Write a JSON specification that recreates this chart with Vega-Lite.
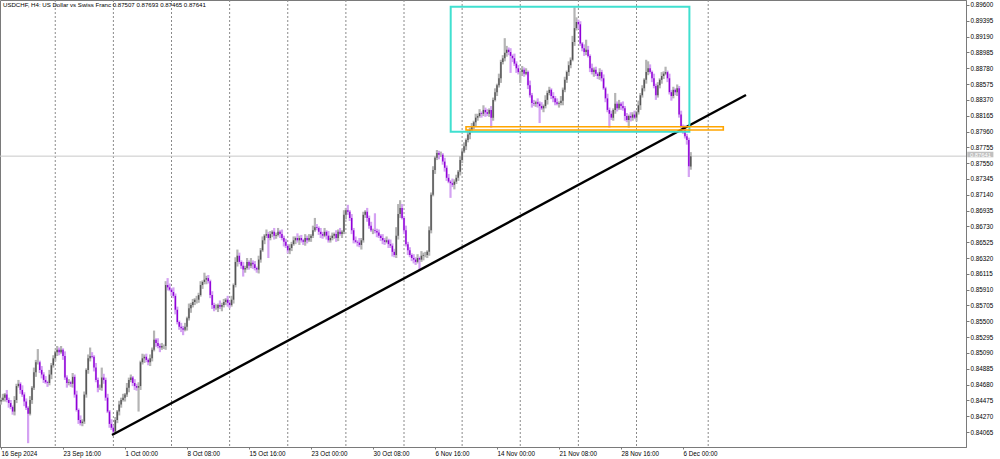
{
"$schema": "https://vega.github.io/schema/vega-lite/v6.json",
"width": 966, "height": 447,
"autosize": {"type": "none"},
"padding": {"left": 0, "top": 0, "right": 34, "bottom": 12},
"background": "white",
"config": {"view": {"stroke": "#7a7a7a", "strokeWidth": 1}, "font": "Liberation Sans"},
"title": {"text": "USDCHF, H4:  US Dollar vs Swiss Franc  0.87507 0.87693 0.87465 0.87641", "anchor": "start", "frame": "group", "offset": -9, "dx": 3, "fontSize": 6.1, "fontWeight": "normal", "font": "Liberation Sans", "color": "#000000"},
"datasets": {
"seps": [{"i":30},{"i":60},{"i":90},{"i":120},{"i":150},{"i":180},{"i":210},{"i":240},{"i":270},{"i":300},{"i":330},{"i":367}],
"trend": [{"x1":59.3,"p1":0.84026,"x2":386.5,"p2":0.88433}],
"box": [{"x1":234.1,"x2":357.3,"p1":0.89578,"p2":0.87958}],
"zone": [{"x1":242,"x2":374.8,"p1":0.88022,"p2":0.8798}],
"tag": [{"x1":500.7,"x2":514.2,"xm":507.5,"p1":0.87698,"p2":0.87626,"pm":0.87662,"label":"0.87641"}],
"bars": [
{"i":2,"o":0.8446,"h":0.8451,"l":0.8442,"c":0.8448},
{"i":3,"o":0.8448,"h":0.8456,"l":0.8446,"c":0.8451},
{"i":4,"o":0.8451,"h":0.8457,"l":0.8446,"c":0.8455},
{"i":5,"o":0.8455,"h":0.8461,"l":0.8445,"c":0.8448},
{"i":6,"o":0.8448,"h":0.8451,"l":0.8438,"c":0.8444},
{"i":7,"o":0.8444,"h":0.8448,"l":0.8436,"c":0.8439},
{"i":8,"o":0.8439,"h":0.8441,"l":0.8429,"c":0.8433},
{"i":9,"o":0.8433,"h":0.8453,"l":0.8428,"c":0.8448},
{"i":10,"o":0.8448,"h":0.8469,"l":0.8444,"c":0.8466},
{"i":11,"o":0.8466,"h":0.8474,"l":0.8464,"c":0.8469},
{"i":12,"o":0.8469,"h":0.8471,"l":0.8456,"c":0.8461},
{"i":13,"o":0.8461,"h":0.8467,"l":0.8452,"c":0.8455},
{"i":14,"o":0.8455,"h":0.8458,"l":0.844,"c":0.8446},
{"i":15,"o":0.8446,"h":0.845,"l":0.8435,"c":0.8438},
{"i":16,"o":0.8438,"h":0.844,"l":0.8392,"c":0.843},
{"i":17,"o":0.843,"h":0.8453,"l":0.8428,"c":0.8448},
{"i":18,"o":0.8448,"h":0.8466,"l":0.8443,"c":0.8464},
{"i":19,"o":0.8464,"h":0.849,"l":0.8461,"c":0.8484},
{"i":20,"o":0.8484,"h":0.85,"l":0.8478,"c":0.8497},
{"i":21,"o":0.8497,"h":0.8514,"l":0.8494,"c":0.8497},
{"i":22,"o":0.8497,"h":0.8499,"l":0.8483,"c":0.8487},
{"i":23,"o":0.8487,"h":0.8492,"l":0.8476,"c":0.8481},
{"i":24,"o":0.8481,"h":0.8484,"l":0.847,"c":0.8474},
{"i":25,"o":0.8474,"h":0.8479,"l":0.8469,"c":0.8471},
{"i":26,"o":0.8471,"h":0.8473,"l":0.8465,"c":0.847},
{"i":27,"o":0.847,"h":0.8487,"l":0.8467,"c":0.8481},
{"i":28,"o":0.8481,"h":0.8496,"l":0.8475,"c":0.8493},
{"i":29,"o":0.8493,"h":0.8506,"l":0.849,"c":0.8502},
{"i":30,"o":0.8502,"h":0.8512,"l":0.8498,"c":0.851},
{"i":31,"o":0.851,"h":0.8518,"l":0.8505,"c":0.8513},
{"i":32,"o":0.8513,"h":0.8516,"l":0.8506,"c":0.851},
{"i":33,"o":0.851,"h":0.8518,"l":0.8508,"c":0.8513},
{"i":34,"o":0.8513,"h":0.8515,"l":0.85,"c":0.8505},
{"i":35,"o":0.8505,"h":0.8511,"l":0.8474,"c":0.8477},
{"i":36,"o":0.8477,"h":0.848,"l":0.8464,"c":0.847},
{"i":37,"o":0.847,"h":0.8475,"l":0.8467,"c":0.8471},
{"i":38,"o":0.8471,"h":0.8473,"l":0.8465,"c":0.8469},
{"i":39,"o":0.8469,"h":0.8483,"l":0.8464,"c":0.8478},
{"i":40,"o":0.8478,"h":0.8481,"l":0.8451,"c":0.8455},
{"i":41,"o":0.8455,"h":0.846,"l":0.8433,"c":0.8435},
{"i":42,"o":0.8435,"h":0.8437,"l":0.8417,"c":0.8422},
{"i":43,"o":0.8422,"h":0.8428,"l":0.8415,"c":0.8418},
{"i":44,"o":0.8418,"h":0.8423,"l":0.8414,"c":0.842},
{"i":45,"o":0.842,"h":0.8459,"l":0.8417,"c":0.8455},
{"i":46,"o":0.8455,"h":0.8489,"l":0.8451,"c":0.8487},
{"i":47,"o":0.8487,"h":0.8507,"l":0.8482,"c":0.8502},
{"i":48,"o":0.8502,"h":0.8516,"l":0.8498,"c":0.8505},
{"i":49,"o":0.8505,"h":0.851,"l":0.8502,"c":0.8504},
{"i":50,"o":0.8504,"h":0.8506,"l":0.8485,"c":0.849},
{"i":51,"o":0.849,"h":0.8496,"l":0.8471,"c":0.8474},
{"i":52,"o":0.8474,"h":0.8477,"l":0.8458,"c":0.8464},
{"i":53,"o":0.8464,"h":0.8468,"l":0.8461,"c":0.8464},
{"i":54,"o":0.8464,"h":0.849,"l":0.846,"c":0.8477},
{"i":55,"o":0.8477,"h":0.8482,"l":0.8469,"c":0.8474},
{"i":56,"o":0.8474,"h":0.8477,"l":0.8447,"c":0.8451},
{"i":57,"o":0.8451,"h":0.8456,"l":0.8431,"c":0.8433},
{"i":58,"o":0.8433,"h":0.8435,"l":0.8412,"c":0.8417},
{"i":59,"o":0.8417,"h":0.8423,"l":0.8409,"c":0.8412},
{"i":60,"o":0.8412,"h":0.8415,"l":0.8403,"c":0.8407},
{"i":61,"o":0.8407,"h":0.8426,"l":0.8404,"c":0.8422},
{"i":62,"o":0.8422,"h":0.8435,"l":0.8418,"c":0.8433},
{"i":63,"o":0.8433,"h":0.8447,"l":0.8428,"c":0.8442},
{"i":64,"o":0.8442,"h":0.8451,"l":0.8438,"c":0.8448},
{"i":65,"o":0.8448,"h":0.8456,"l":0.8446,"c":0.8451},
{"i":66,"o":0.8451,"h":0.8457,"l":0.8446,"c":0.8455},
{"i":67,"o":0.8455,"h":0.847,"l":0.8452,"c":0.8464},
{"i":68,"o":0.8464,"h":0.8477,"l":0.8458,"c":0.8474},
{"i":69,"o":0.8474,"h":0.8481,"l":0.8471,"c":0.8477},
{"i":70,"o":0.8477,"h":0.8479,"l":0.8466,"c":0.847},
{"i":71,"o":0.847,"h":0.8475,"l":0.8461,"c":0.8466},
{"i":72,"o":0.8466,"h":0.8469,"l":0.846,"c":0.8464},
{"i":73,"o":0.8464,"h":0.8471,"l":0.8433,"c":0.8466},
{"i":74,"o":0.8466,"h":0.8499,"l":0.8461,"c":0.8497},
{"i":75,"o":0.8497,"h":0.8508,"l":0.8494,"c":0.8502},
{"i":76,"o":0.8502,"h":0.8507,"l":0.8496,"c":0.8504},
{"i":77,"o":0.8504,"h":0.8508,"l":0.8497,"c":0.85},
{"i":78,"o":0.85,"h":0.8502,"l":0.8493,"c":0.8497},
{"i":79,"o":0.8497,"h":0.8507,"l":0.8492,"c":0.8502},
{"i":80,"o":0.8502,"h":0.8516,"l":0.8498,"c":0.8513},
{"i":81,"o":0.8513,"h":0.8538,"l":0.8511,"c":0.8526},
{"i":82,"o":0.8526,"h":0.8528,"l":0.8517,"c":0.8522},
{"i":83,"o":0.8522,"h":0.8528,"l":0.8515,"c":0.8518},
{"i":84,"o":0.8518,"h":0.8521,"l":0.851,"c":0.8516},
{"i":85,"o":0.8516,"h":0.8522,"l":0.8513,"c":0.8518},
{"i":86,"o":0.8518,"h":0.852,"l":0.8514,"c":0.8518},
{"i":87,"o":0.8518,"h":0.8602,"l":0.8513,"c":0.8597},
{"i":88,"o":0.8597,"h":0.8606,"l":0.859,"c":0.8594},
{"i":89,"o":0.8594,"h":0.8599,"l":0.8589,"c":0.8591},
{"i":90,"o":0.8591,"h":0.8593,"l":0.8583,"c":0.8588},
{"i":91,"o":0.8588,"h":0.8594,"l":0.858,"c":0.8583},
{"i":92,"o":0.8583,"h":0.8586,"l":0.8559,"c":0.8565},
{"i":93,"o":0.8565,"h":0.8569,"l":0.8546,"c":0.8549},
{"i":94,"o":0.8549,"h":0.8551,"l":0.8539,"c":0.8543},
{"i":95,"o":0.8543,"h":0.8548,"l":0.8536,"c":0.8541},
{"i":96,"o":0.8541,"h":0.8544,"l":0.8532,"c":0.8539},
{"i":97,"o":0.8539,"h":0.8548,"l":0.8537,"c":0.8543},
{"i":98,"o":0.8543,"h":0.8556,"l":0.8538,"c":0.8554},
{"i":99,"o":0.8554,"h":0.8573,"l":0.8551,"c":0.8567},
{"i":100,"o":0.8567,"h":0.8574,"l":0.8561,"c":0.8571},
{"i":101,"o":0.8571,"h":0.8579,"l":0.8568,"c":0.8575},
{"i":102,"o":0.8575,"h":0.858,"l":0.8571,"c":0.8578},
{"i":103,"o":0.8578,"h":0.8583,"l":0.8573,"c":0.8578},
{"i":104,"o":0.8578,"h":0.8587,"l":0.8574,"c":0.8584},
{"i":105,"o":0.8584,"h":0.8602,"l":0.8582,"c":0.8597},
{"i":106,"o":0.8597,"h":0.8603,"l":0.8592,"c":0.8601},
{"i":107,"o":0.8601,"h":0.8613,"l":0.8598,"c":0.8604},
{"i":108,"o":0.8604,"h":0.8609,"l":0.8598,"c":0.8606},
{"i":109,"o":0.8606,"h":0.861,"l":0.8599,"c":0.8602},
{"i":110,"o":0.8602,"h":0.8604,"l":0.858,"c":0.8584},
{"i":111,"o":0.8584,"h":0.8589,"l":0.8566,"c":0.8571},
{"i":112,"o":0.8571,"h":0.8574,"l":0.8563,"c":0.8567},
{"i":113,"o":0.8567,"h":0.8572,"l":0.8565,"c":0.8567},
{"i":114,"o":0.8567,"h":0.8573,"l":0.8562,"c":0.8571},
{"i":115,"o":0.8571,"h":0.8577,"l":0.8566,"c":0.8569},
{"i":116,"o":0.8569,"h":0.8574,"l":0.8563,"c":0.8571},
{"i":117,"o":0.8571,"h":0.8579,"l":0.8568,"c":0.8575},
{"i":118,"o":0.8575,"h":0.858,"l":0.8571,"c":0.8578},
{"i":119,"o":0.8578,"h":0.8583,"l":0.8569,"c":0.8574},
{"i":120,"o":0.8574,"h":0.8577,"l":0.8567,"c":0.8571},
{"i":121,"o":0.8571,"h":0.8583,"l":0.8569,"c":0.8578},
{"i":122,"o":0.8578,"h":0.8599,"l":0.8573,"c":0.8597},
{"i":123,"o":0.8597,"h":0.8633,"l":0.8594,"c":0.8627},
{"i":124,"o":0.8627,"h":0.8643,"l":0.8621,"c":0.8635},
{"i":125,"o":0.8635,"h":0.8639,"l":0.8624,"c":0.8627},
{"i":126,"o":0.8627,"h":0.8629,"l":0.8618,"c":0.8622},
{"i":127,"o":0.8622,"h":0.8627,"l":0.8608,"c":0.8617},
{"i":128,"o":0.8617,"h":0.8622,"l":0.8613,"c":0.8619},
{"i":129,"o":0.8619,"h":0.8632,"l":0.8617,"c":0.8627},
{"i":130,"o":0.8627,"h":0.8629,"l":0.8617,"c":0.8622},
{"i":131,"o":0.8622,"h":0.8632,"l":0.8619,"c":0.8626},
{"i":132,"o":0.8626,"h":0.8629,"l":0.8618,"c":0.8624},
{"i":133,"o":0.8624,"h":0.8628,"l":0.8616,"c":0.8619},
{"i":134,"o":0.8619,"h":0.8621,"l":0.8613,"c":0.8617},
{"i":135,"o":0.8617,"h":0.8635,"l":0.8612,"c":0.863},
{"i":136,"o":0.863,"h":0.8645,"l":0.8626,"c":0.8642},
{"i":137,"o":0.8642,"h":0.866,"l":0.864,"c":0.8655},
{"i":138,"o":0.8655,"h":0.8663,"l":0.865,"c":0.8661},
{"i":139,"o":0.8661,"h":0.8669,"l":0.8658,"c":0.8663},
{"i":140,"o":0.8663,"h":0.8666,"l":0.8632,"c":0.8658},
{"i":141,"o":0.8658,"h":0.8667,"l":0.8655,"c":0.8663},
{"i":142,"o":0.8663,"h":0.8668,"l":0.8659,"c":0.8666},
{"i":143,"o":0.8666,"h":0.8671,"l":0.8656,"c":0.8661},
{"i":144,"o":0.8661,"h":0.8665,"l":0.8657,"c":0.8662},
{"i":145,"o":0.8662,"h":0.8671,"l":0.866,"c":0.8666},
{"i":146,"o":0.8666,"h":0.8668,"l":0.8658,"c":0.8663},
{"i":147,"o":0.8663,"h":0.8669,"l":0.8655,"c":0.8658},
{"i":148,"o":0.8658,"h":0.8661,"l":0.8647,"c":0.8653},
{"i":149,"o":0.8653,"h":0.8657,"l":0.8645,"c":0.8648},
{"i":150,"o":0.8648,"h":0.865,"l":0.8638,"c":0.8642},
{"i":151,"o":0.8642,"h":0.865,"l":0.8637,"c":0.8645},
{"i":152,"o":0.8645,"h":0.8653,"l":0.8641,"c":0.865},
{"i":153,"o":0.865,"h":0.866,"l":0.8648,"c":0.8655},
{"i":154,"o":0.8655,"h":0.866,"l":0.865,"c":0.8658},
{"i":155,"o":0.8658,"h":0.8664,"l":0.8652,"c":0.8655},
{"i":156,"o":0.8655,"h":0.8661,"l":0.8649,"c":0.8658},
{"i":157,"o":0.8658,"h":0.8662,"l":0.8652,"c":0.8655},
{"i":158,"o":0.8655,"h":0.8657,"l":0.8649,"c":0.8653},
{"i":159,"o":0.8653,"h":0.8663,"l":0.8648,"c":0.8658},
{"i":160,"o":0.8658,"h":0.8661,"l":0.8651,"c":0.8655},
{"i":161,"o":0.8655,"h":0.8663,"l":0.8653,"c":0.8658},
{"i":162,"o":0.8658,"h":0.8663,"l":0.8653,"c":0.8661},
{"i":163,"o":0.8661,"h":0.8674,"l":0.8658,"c":0.8668},
{"i":164,"o":0.8668,"h":0.8684,"l":0.8666,"c":0.8672},
{"i":165,"o":0.8672,"h":0.8676,"l":0.8668,"c":0.8671},
{"i":166,"o":0.8671,"h":0.8673,"l":0.8662,"c":0.8666},
{"i":167,"o":0.8666,"h":0.8671,"l":0.8658,"c":0.8663},
{"i":168,"o":0.8663,"h":0.8666,"l":0.8657,"c":0.8661},
{"i":169,"o":0.8661,"h":0.8671,"l":0.8659,"c":0.8666},
{"i":170,"o":0.8666,"h":0.8668,"l":0.8656,"c":0.8661},
{"i":171,"o":0.8661,"h":0.8667,"l":0.8652,"c":0.8655},
{"i":172,"o":0.8655,"h":0.8661,"l":0.8652,"c":0.8658},
{"i":173,"o":0.8658,"h":0.8665,"l":0.8655,"c":0.8661},
{"i":174,"o":0.8661,"h":0.8665,"l":0.8657,"c":0.8663},
{"i":175,"o":0.8663,"h":0.8668,"l":0.8653,"c":0.8658},
{"i":176,"o":0.8658,"h":0.8669,"l":0.8654,"c":0.8666},
{"i":177,"o":0.8666,"h":0.8671,"l":0.8661,"c":0.8663},
{"i":178,"o":0.8663,"h":0.8668,"l":0.8658,"c":0.8666},
{"i":179,"o":0.8666,"h":0.8694,"l":0.8663,"c":0.8688},
{"i":180,"o":0.8688,"h":0.8697,"l":0.8682,"c":0.8694},
{"i":181,"o":0.8694,"h":0.8701,"l":0.8688,"c":0.8692},
{"i":182,"o":0.8692,"h":0.8694,"l":0.868,"c":0.8684},
{"i":183,"o":0.8684,"h":0.8689,"l":0.8663,"c":0.8668},
{"i":184,"o":0.8668,"h":0.8671,"l":0.8651,"c":0.8655},
{"i":185,"o":0.8655,"h":0.866,"l":0.8651,"c":0.8653},
{"i":186,"o":0.8653,"h":0.8655,"l":0.8647,"c":0.8652},
{"i":187,"o":0.8652,"h":0.8658,"l":0.8646,"c":0.8649},
{"i":188,"o":0.8649,"h":0.8658,"l":0.8643,"c":0.8655},
{"i":189,"o":0.8655,"h":0.8692,"l":0.8652,"c":0.8688},
{"i":190,"o":0.8688,"h":0.8694,"l":0.8684,"c":0.8692},
{"i":191,"o":0.8692,"h":0.8697,"l":0.8679,"c":0.8684},
{"i":192,"o":0.8684,"h":0.8687,"l":0.867,"c":0.8674},
{"i":193,"o":0.8674,"h":0.8679,"l":0.8666,"c":0.8668},
{"i":194,"o":0.8668,"h":0.867,"l":0.8663,"c":0.8668},
{"i":195,"o":0.8668,"h":0.869,"l":0.8664,"c":0.8667},
{"i":196,"o":0.8667,"h":0.867,"l":0.8659,"c":0.8665},
{"i":197,"o":0.8665,"h":0.8669,"l":0.8658,"c":0.8661},
{"i":198,"o":0.8661,"h":0.8663,"l":0.8654,"c":0.8658},
{"i":199,"o":0.8658,"h":0.8663,"l":0.865,"c":0.8655},
{"i":200,"o":0.8655,"h":0.8658,"l":0.8649,"c":0.8653},
{"i":201,"o":0.8653,"h":0.866,"l":0.8651,"c":0.8655},
{"i":202,"o":0.8655,"h":0.8657,"l":0.8645,"c":0.865},
{"i":203,"o":0.865,"h":0.8656,"l":0.8645,"c":0.8648},
{"i":204,"o":0.8648,"h":0.8651,"l":0.8634,"c":0.864},
{"i":205,"o":0.864,"h":0.8644,"l":0.8633,"c":0.8636},
{"i":206,"o":0.8636,"h":0.8672,"l":0.8632,"c":0.8661},
{"i":207,"o":0.8661,"h":0.8702,"l":0.8656,"c":0.8689},
{"i":208,"o":0.8689,"h":0.8707,"l":0.8684,"c":0.8697},
{"i":209,"o":0.8697,"h":0.8702,"l":0.8682,"c":0.8684},
{"i":210,"o":0.8684,"h":0.8686,"l":0.8663,"c":0.8668},
{"i":211,"o":0.8668,"h":0.8674,"l":0.8647,"c":0.865},
{"i":212,"o":0.865,"h":0.8653,"l":0.8636,"c":0.8642},
{"i":213,"o":0.8642,"h":0.8646,"l":0.8633,"c":0.8636},
{"i":214,"o":0.8636,"h":0.8638,"l":0.8628,"c":0.8632},
{"i":215,"o":0.8632,"h":0.8637,"l":0.8625,"c":0.863},
{"i":216,"o":0.863,"h":0.8633,"l":0.8623,"c":0.8627},
{"i":217,"o":0.8627,"h":0.8637,"l":0.8625,"c":0.8632},
{"i":218,"o":0.8632,"h":0.8634,"l":0.8617,"c":0.863},
{"i":219,"o":0.863,"h":0.8641,"l":0.8627,"c":0.8635},
{"i":220,"o":0.8635,"h":0.8639,"l":0.8629,"c":0.8636},
{"i":221,"o":0.8636,"h":0.864,"l":0.8633,"c":0.8636},
{"i":222,"o":0.8636,"h":0.8642,"l":0.8632,"c":0.864},
{"i":223,"o":0.864,"h":0.8673,"l":0.8635,"c":0.8668},
{"i":224,"o":0.8668,"h":0.8717,"l":0.8664,"c":0.8714},
{"i":225,"o":0.8714,"h":0.8751,"l":0.8712,"c":0.8746},
{"i":226,"o":0.8746,"h":0.8764,"l":0.8741,"c":0.8762},
{"i":227,"o":0.8762,"h":0.8772,"l":0.8759,"c":0.8768},
{"i":228,"o":0.8768,"h":0.8771,"l":0.876,"c":0.8766},
{"i":229,"o":0.8766,"h":0.877,"l":0.8763,"c":0.8766},
{"i":230,"o":0.8766,"h":0.8768,"l":0.8753,"c":0.8757},
{"i":231,"o":0.8757,"h":0.8762,"l":0.8744,"c":0.8749},
{"i":232,"o":0.8749,"h":0.8752,"l":0.8732,"c":0.8736},
{"i":233,"o":0.8736,"h":0.8741,"l":0.8729,"c":0.8731},
{"i":234,"o":0.8731,"h":0.8733,"l":0.871,"c":0.8729},
{"i":235,"o":0.8729,"h":0.8735,"l":0.8724,"c":0.8727},
{"i":236,"o":0.8727,"h":0.8734,"l":0.8721,"c":0.8731},
{"i":237,"o":0.8731,"h":0.874,"l":0.8728,"c":0.8736},
{"i":238,"o":0.8736,"h":0.8746,"l":0.8732,"c":0.8744},
{"i":239,"o":0.8744,"h":0.8764,"l":0.8739,"c":0.8759},
{"i":240,"o":0.8759,"h":0.8773,"l":0.8755,"c":0.877},
{"i":241,"o":0.877,"h":0.8782,"l":0.8768,"c":0.8777},
{"i":242,"o":0.8777,"h":0.8787,"l":0.8772,"c":0.8785},
{"i":243,"o":0.8785,"h":0.8798,"l":0.8782,"c":0.8792},
{"i":244,"o":0.8792,"h":0.8801,"l":0.8786,"c":0.8798},
{"i":245,"o":0.8798,"h":0.8807,"l":0.8795,"c":0.8803},
{"i":246,"o":0.8803,"h":0.881,"l":0.8799,"c":0.8808},
{"i":247,"o":0.8808,"h":0.8819,"l":0.8803,"c":0.8814},
{"i":248,"o":0.8814,"h":0.8819,"l":0.881,"c":0.8816},
{"i":249,"o":0.8816,"h":0.8825,"l":0.8814,"c":0.882},
{"i":250,"o":0.882,"h":0.8822,"l":0.8814,"c":0.8819},
{"i":251,"o":0.8819,"h":0.883,"l":0.8816,"c":0.8824},
{"i":252,"o":0.8824,"h":0.8827,"l":0.8815,"c":0.8821},
{"i":253,"o":0.8821,"h":0.8825,"l":0.8816,"c":0.8819},
{"i":254,"o":0.8819,"h":0.8826,"l":0.8815,"c":0.8824},
{"i":255,"o":0.8824,"h":0.8829,"l":0.8801,"c":0.8814},
{"i":256,"o":0.8814,"h":0.884,"l":0.881,"c":0.8837},
{"i":257,"o":0.8837,"h":0.8852,"l":0.8835,"c":0.8847},
{"i":258,"o":0.8847,"h":0.8858,"l":0.8842,"c":0.8856},
{"i":259,"o":0.8856,"h":0.8871,"l":0.8853,"c":0.8865},
{"i":260,"o":0.8865,"h":0.8889,"l":0.8859,"c":0.8886},
{"i":261,"o":0.8886,"h":0.8895,"l":0.8883,"c":0.8891},
{"i":262,"o":0.8891,"h":0.8917,"l":0.8887,"c":0.8898},
{"i":263,"o":0.8898,"h":0.8907,"l":0.8893,"c":0.8902},
{"i":264,"o":0.8902,"h":0.8905,"l":0.8895,"c":0.8899},
{"i":265,"o":0.8899,"h":0.8904,"l":0.8872,"c":0.8894},
{"i":266,"o":0.8894,"h":0.8896,"l":0.8886,"c":0.8891},
{"i":267,"o":0.8891,"h":0.8897,"l":0.8881,"c":0.8884},
{"i":268,"o":0.8884,"h":0.8887,"l":0.8872,"c":0.8878},
{"i":269,"o":0.8878,"h":0.8882,"l":0.887,"c":0.8873},
{"i":270,"o":0.8873,"h":0.8875,"l":0.8859,"c":0.8873},
{"i":271,"o":0.8873,"h":0.8881,"l":0.8868,"c":0.8876},
{"i":272,"o":0.8876,"h":0.8879,"l":0.8867,"c":0.8871},
{"i":273,"o":0.8871,"h":0.8878,"l":0.8869,"c":0.8873},
{"i":274,"o":0.8873,"h":0.8875,"l":0.8851,"c":0.8856},
{"i":275,"o":0.8856,"h":0.8862,"l":0.884,"c":0.8843},
{"i":276,"o":0.8843,"h":0.8846,"l":0.8827,"c":0.8833},
{"i":277,"o":0.8833,"h":0.8837,"l":0.8829,"c":0.8832},
{"i":278,"o":0.8832,"h":0.8836,"l":0.8828,"c":0.8834},
{"i":279,"o":0.8834,"h":0.8839,"l":0.8827,"c":0.8832},
{"i":280,"o":0.8832,"h":0.8835,"l":0.8807,"c":0.8829},
{"i":281,"o":0.8829,"h":0.8834,"l":0.8824,"c":0.8826},
{"i":282,"o":0.8826,"h":0.8831,"l":0.8821,"c":0.8829},
{"i":283,"o":0.8829,"h":0.8843,"l":0.8826,"c":0.8837},
{"i":284,"o":0.8837,"h":0.8849,"l":0.8831,"c":0.8846},
{"i":285,"o":0.8846,"h":0.8854,"l":0.8843,"c":0.885},
{"i":286,"o":0.885,"h":0.8852,"l":0.8838,"c":0.8842},
{"i":287,"o":0.8842,"h":0.8847,"l":0.8834,"c":0.8839},
{"i":288,"o":0.8839,"h":0.8842,"l":0.883,"c":0.8834},
{"i":289,"o":0.8834,"h":0.8839,"l":0.883,"c":0.8832},
{"i":290,"o":0.8832,"h":0.8835,"l":0.8827,"c":0.8833},
{"i":291,"o":0.8833,"h":0.8842,"l":0.883,"c":0.8836},
{"i":292,"o":0.8836,"h":0.8853,"l":0.883,"c":0.885},
{"i":293,"o":0.885,"h":0.8867,"l":0.8847,"c":0.8863},
{"i":294,"o":0.8863,"h":0.8875,"l":0.8859,"c":0.8873},
{"i":295,"o":0.8873,"h":0.8887,"l":0.8868,"c":0.8882},
{"i":296,"o":0.8882,"h":0.8892,"l":0.8878,"c":0.8889},
{"i":297,"o":0.8889,"h":0.892,"l":0.8887,"c":0.8912},
{"i":298,"o":0.8912,"h":0.8957,"l":0.8907,"c":0.893},
{"i":299,"o":0.893,"h":0.8944,"l":0.8927,"c":0.8938},
{"i":300,"o":0.8938,"h":0.8941,"l":0.8929,"c":0.8935},
{"i":301,"o":0.8935,"h":0.8939,"l":0.8907,"c":0.891},
{"i":302,"o":0.891,"h":0.8912,"l":0.89,"c":0.8904},
{"i":303,"o":0.8904,"h":0.8909,"l":0.8894,"c":0.8899},
{"i":304,"o":0.8899,"h":0.8915,"l":0.8895,"c":0.8902},
{"i":305,"o":0.8902,"h":0.8907,"l":0.8892,"c":0.8894},
{"i":306,"o":0.8894,"h":0.8896,"l":0.8873,"c":0.8878},
{"i":307,"o":0.8878,"h":0.8884,"l":0.887,"c":0.8873},
{"i":308,"o":0.8873,"h":0.8879,"l":0.8867,"c":0.8876},
{"i":309,"o":0.8876,"h":0.888,"l":0.8868,"c":0.8871},
{"i":310,"o":0.8871,"h":0.8873,"l":0.8864,"c":0.8868},
{"i":311,"o":0.8868,"h":0.8878,"l":0.8863,"c":0.8873},
{"i":312,"o":0.8873,"h":0.8876,"l":0.8861,"c":0.8865},
{"i":313,"o":0.8865,"h":0.887,"l":0.885,"c":0.8852},
{"i":314,"o":0.8852,"h":0.8854,"l":0.8834,"c":0.8839},
{"i":315,"o":0.8839,"h":0.8845,"l":0.8821,"c":0.8824},
{"i":316,"o":0.8824,"h":0.8827,"l":0.8801,"c":0.8819},
{"i":317,"o":0.8819,"h":0.8823,"l":0.8811,"c":0.8814},
{"i":318,"o":0.8814,"h":0.8826,"l":0.881,"c":0.8824},
{"i":319,"o":0.8824,"h":0.8846,"l":0.8819,"c":0.8832},
{"i":320,"o":0.8832,"h":0.8835,"l":0.8822,"c":0.8826},
{"i":321,"o":0.8826,"h":0.8837,"l":0.8824,"c":0.8832},
{"i":322,"o":0.8832,"h":0.8834,"l":0.8824,"c":0.8829},
{"i":323,"o":0.8829,"h":0.8835,"l":0.8823,"c":0.8826},
{"i":324,"o":0.8826,"h":0.8829,"l":0.881,"c":0.8816},
{"i":325,"o":0.8816,"h":0.882,"l":0.8808,"c":0.8811},
{"i":326,"o":0.8811,"h":0.8818,"l":0.8801,"c":0.8816},
{"i":327,"o":0.8816,"h":0.8821,"l":0.8809,"c":0.8814},
{"i":328,"o":0.8814,"h":0.8821,"l":0.881,"c":0.8818},
{"i":329,"o":0.8818,"h":0.8823,"l":0.8812,"c":0.8814},
{"i":330,"o":0.8814,"h":0.8823,"l":0.8809,"c":0.8821},
{"i":331,"o":0.8821,"h":0.8836,"l":0.8818,"c":0.883},
{"i":332,"o":0.883,"h":0.8846,"l":0.8824,"c":0.8843},
{"i":333,"o":0.8843,"h":0.8856,"l":0.884,"c":0.8852},
{"i":334,"o":0.8852,"h":0.8865,"l":0.8848,"c":0.8863},
{"i":335,"o":0.8863,"h":0.8889,"l":0.8858,"c":0.8873},
{"i":336,"o":0.8873,"h":0.8887,"l":0.8869,"c":0.8878},
{"i":337,"o":0.8878,"h":0.8883,"l":0.8871,"c":0.8873},
{"i":338,"o":0.8873,"h":0.8875,"l":0.886,"c":0.8865},
{"i":339,"o":0.8865,"h":0.8871,"l":0.8852,"c":0.8855},
{"i":340,"o":0.8855,"h":0.8858,"l":0.8837,"c":0.8843},
{"i":341,"o":0.8843,"h":0.886,"l":0.884,"c":0.8856},
{"i":342,"o":0.8856,"h":0.8865,"l":0.8852,"c":0.8863},
{"i":343,"o":0.8863,"h":0.8873,"l":0.8858,"c":0.8868},
{"i":344,"o":0.8868,"h":0.8874,"l":0.8864,"c":0.8871},
{"i":345,"o":0.8871,"h":0.888,"l":0.8869,"c":0.8873},
{"i":346,"o":0.8873,"h":0.8875,"l":0.886,"c":0.8865},
{"i":347,"o":0.8865,"h":0.8871,"l":0.8844,"c":0.8847},
{"i":348,"o":0.8847,"h":0.885,"l":0.8836,"c":0.8842},
{"i":349,"o":0.8842,"h":0.8854,"l":0.8839,"c":0.885},
{"i":350,"o":0.885,"h":0.8852,"l":0.8843,"c":0.8847},
{"i":351,"o":0.8847,"h":0.8857,"l":0.8842,"c":0.8852},
{"i":352,"o":0.8852,"h":0.8855,"l":0.8814,"c":0.8818},
{"i":353,"o":0.8818,"h":0.8823,"l":0.8801,"c":0.8803},
{"i":354,"o":0.8803,"h":0.8805,"l":0.8793,"c":0.8798},
{"i":355,"o":0.8798,"h":0.8804,"l":0.8787,"c":0.879},
{"i":356,"o":0.879,"h":0.8793,"l":0.8779,"c":0.8785},
{"i":357,"o":0.8785,"h":0.8788,"l":0.8737,"c":0.8751},
{"i":358,"o":0.87507,"h":0.87693,"l":0.87465,"c":0.87641}
]
},
"layer": [
{"data": {"name": "seps"}, "mark": {"type": "rule", "color": "#8a8a8a", "strokeWidth": 1, "strokeDash": [2, 2]},
 "encoding": {"x": {"field": "i", "type": "quantitative", "scale": {"domain": [1.484, 500.06], "nice": false, "zero": false}}}},
{"data": {"values": [{}]}, "mark": {"type": "rule", "color": "#c8c8c8", "strokeWidth": 1},
 "encoding": {"y": {"datum": 0.87641, "type": "quantitative", "scale": {"domain": [0.838706, 0.896648], "nice": false, "zero": false}}}},
{"data": {"name": "bars"}, "mark": {"type": "rule", "strokeWidth": 2.2},
 "encoding": {
  "x": {"field": "i", "type": "quantitative", "scale": {"domain": [1.484, 500.06], "nice": false, "zero": false},
        "axis": {"title": null, "values": [2,34,66,98,130,162,194,226,258,290,322,354], "tickCount": 100, "labelExpr": "datum.value==2?'16 Sep 2024':datum.value==34?'23 Sep 16:00':datum.value==66?'1 Oct 00:00':datum.value==98?'8 Oct 08:00':datum.value==130?'15 Oct 16:00':datum.value==162?'23 Oct 00:00':datum.value==194?'30 Oct 08:00':datum.value==226?'6 Nov 16:00':datum.value==258?'14 Nov 00:00':datum.value==290?'21 Nov 08:00':datum.value==322?'28 Nov 16:00':'6 Dec 00:00'", "labelAlign": "left", "labelBaseline": "top", "labelPadding": 1, "labelFontSize": 6.3, "labelFont": "Liberation Sans", "labelColor": "#000000", "labelFlush": false, "labelOverlap": false, "tickSize": 2, "tickColor": "#7a7a7a", "domainColor": "#7a7a7a", "grid": false}},
  "y": {"field": "l", "type": "quantitative", "scale": {"domain": [0.838706, 0.896648], "nice": false, "zero": false},
        "axis": {"title": null, "orient": "right", "values": [0.84065,0.8427,0.84475,0.8468,0.84885,0.8509,0.85295,0.855,0.85705,0.8591,0.86115,0.8632,0.86525,0.8673,0.86935,0.8714,0.87345,0.8755,0.87755,0.8796,0.88165,0.8837,0.88575,0.8878,0.88985,0.8919,0.89395,0.896], "tickCount": 100, "format": ".5f", "labelFontSize": 6.3, "labelFont": "Liberation Sans", "labelColor": "#000000", "labelPadding": 1, "labelFlush": false, "labelOverlap": false, "tickSize": 3, "tickColor": "#7a7a7a", "domainColor": "#7a7a7a", "grid": false}},
  "y2": {"field": "h"},
  "color": {"condition": {"test": "datum.c >= datum.o", "value": "#b4b4b4"}, "value": "#d4a2f2"}
 }},
{"data": {"name": "bars"}, "mark": {"type": "rule", "strokeWidth": 1.4},
 "encoding": {
  "x": {"field": "i", "type": "quantitative", "scale": {"domain": [1.484, 500.06], "nice": false, "zero": false}},
  "y": {"field": "o", "type": "quantitative", "scale": {"domain": [0.838706, 0.896648], "nice": false, "zero": false}},
  "y2": {"field": "c"},
  "color": {"condition": {"test": "datum.c >= datum.o", "value": "#555555"}, "value": "#9000d8"}
 }},
{"data": {"name": "trend"}, "mark": {"type": "rule", "color": "#000000", "strokeWidth": 2.4},
 "encoding": {
  "x": {"field": "x1", "type": "quantitative", "scale": {"domain": [1.484, 500.06], "nice": false, "zero": false}},
  "x2": {"field": "x2"},
  "y": {"field": "p1", "type": "quantitative", "scale": {"domain": [0.838706, 0.896648], "nice": false, "zero": false}},
  "y2": {"field": "p2"}
 }},
{"data": {"name": "box"}, "mark": {"type": "rect", "filled": false, "color": "#40e0d0", "strokeWidth": 2},
 "encoding": {
  "x": {"field": "x1", "type": "quantitative", "scale": {"domain": [1.484, 500.06], "nice": false, "zero": false}},
  "x2": {"field": "x2"},
  "y": {"field": "p1", "type": "quantitative", "scale": {"domain": [0.838706, 0.896648], "nice": false, "zero": false}},
  "y2": {"field": "p2"}
 }},
{"data": {"name": "zone"}, "mark": {"type": "rect", "filled": false, "color": "#ffa500", "strokeWidth": 1.6},
 "encoding": {
  "x": {"field": "x1", "type": "quantitative", "scale": {"domain": [1.484, 500.06], "nice": false, "zero": false}},
  "x2": {"field": "x2"},
  "y": {"field": "p1", "type": "quantitative", "scale": {"domain": [0.838706, 0.896648], "nice": false, "zero": false}},
  "y2": {"field": "p2"}
 }},
{"data": {"name": "tag"}, "mark": {"type": "rect", "color": "#c0c0c0"},
 "encoding": {
  "x": {"field": "x1", "type": "quantitative", "scale": {"domain": [1.484, 500.06], "nice": false, "zero": false}},
  "x2": {"field": "x2"},
  "y": {"field": "p1", "type": "quantitative", "scale": {"domain": [0.838706, 0.896648], "nice": false, "zero": false}},
  "y2": {"field": "p2"}
 }},
{"data": {"name": "tag"}, "mark": {"type": "text", "color": "#ffffff", "fontSize": 5.8, "font": "Liberation Sans", "align": "center", "baseline": "middle"},
 "encoding": {
  "x": {"field": "xm", "type": "quantitative", "scale": {"domain": [1.484, 500.06], "nice": false, "zero": false}},
  "y": {"field": "pm", "type": "quantitative", "scale": {"domain": [0.838706, 0.896648], "nice": false, "zero": false}},
  "text": {"field": "label"}
 }}
]
}
